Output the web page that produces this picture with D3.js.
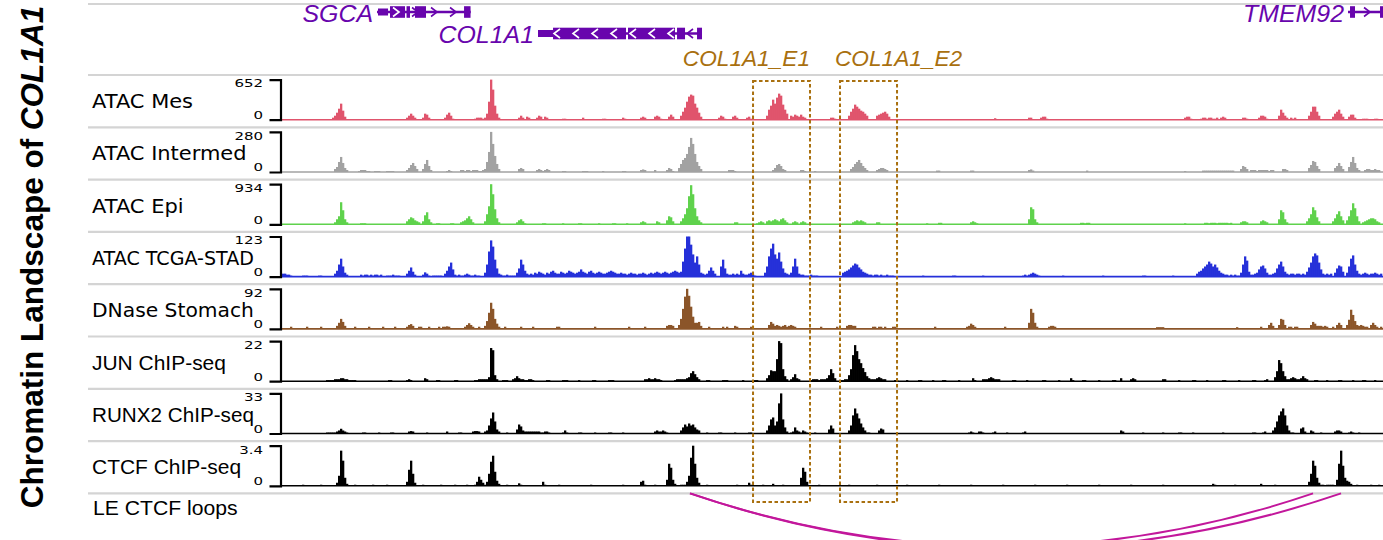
<!DOCTYPE html>
<html>
<head>
<meta charset="utf-8">
<script src="https://cdn.jsdelivr.net/npm/d3@7"></script>
<style>
  body { margin: 0; background: #fff; }
  svg { display: block; }
</style>
</head>
<body>
<svg id="chart" width="1383" height="540"></svg>
<script>
// region shown, chr17 (hg38), signal binned at 225 bp
const REGION_START = 50154600;
const REGION_END = 50278460;
const BIN = 225;

// tracks
const trackNames = ["ATAC Mes", "ATAC Intermed", "ATAC Epi", "ATAC TCGA-STAD",
  "DNase Stomach", "JUN ChIP-seq", "RUNX2 ChIP-seq", "CTCF ChIP-seq"];
const trackMax = [652, 280, 934, 123, 92, 22, 33, 3.4];

// signal: [first bin index, [values of consecutive bins]]
const mesPeaks = [
  [25, [33, 65, 114, 179, 261, 147, 49]],
  [62, [33, 65, 98, 65, 33]],
  [70, [33, 98, 82, 33]],
  [81, [33, 82, 114, 65, 16]],
  [96, [16, 33, 33, 33, 16]],
  [101, [33, 98, 293, 652, 489, 228, 98, 33]],
  [118, [33, 65, 33]], [122, [49, 33]], [127, [33, 65, 49]], [131, [49, 33]],
  [140, [16, 16]], [150, [33]], [160, [16, 16]], [170, [33, 16]],
  [179, [33, 49, 33]], [186, [49, 65, 49, 16]], [193, [49, 82, 49]],
  [199, [65, 130, 196, 293, 375, 408, 391, 261, 196, 114, 49]],
  [218, [33, 65, 49, 16]], [225, [49, 65, 33]], [232, [33, 49, 16]],
  [242, [65, 163, 228, 326, 261, 359, 424, 391, 245, 163, 98]],
  [254, [65, 49, 82, 65, 49, 82, 49, 33]],
  [274, [33, 33, 16]],
  [283, [65, 130, 179, 245, 212, 179, 147, 130, 98, 65]],
  [297, [65, 82, 98, 114, 130, 98, 49]],
  [356, [24]], [373, [33, 33]], [379, [33, 49, 49, 16]],
  [451, [33, 49, 49, 16]], [459, [16, 33, 33, 16, 33, 33, 16, 16, 33]],
  [469, [33, 49, 33]], [480, [33, 33, 16]], [488, [33, 65, 65, 49, 16]],
  [498, [65, 163, 114, 65, 33]], [504, [33, 16, 33]],
  [513, [65, 130, 212, 212, 130, 65]],
  [525, [49, 98, 130, 163, 98, 49]],
  [533, [49, 82, 82, 33]],
  [540, [16, 16, 16]], [546, [16, 16]]
];

const intermedPeaks = [
  [26, [21, 35, 70, 105, 63, 28, 14]],
  [38, [7, 14, 14, 14, 7, 7]], [46, [7, 7, 7]], [52, [7, 7, 7, 7]],
  [62, [14, 28, 49, 63, 42, 21]],
  [70, [21, 56, 84, 42, 14]],
  [82, [7, 14, 7]],
  [89, [14, 14, 7, 14, 14, 7, 14, 14, 14, 7, 7, 14]],
  [101, [21, 70, 140, 280, 196, 112, 56, 21]],
  [118, [21, 28, 21]],
  [127, [14, 21, 14, 7, 14, 21, 14]],
  [140, [7, 7]], [150, [7, 7, 7]], [160, [7]], [170, [7, 7]],
  [179, [14, 18, 14]], [186, [14]], [192, [14, 28, 21, 7]],
  [198, [28, 56, 84, 98, 126, 175, 238, 196, 126, 70, 42, 21]],
  [223, [14, 14, 14, 7]],
  [245, [14, 28, 49, 56, 42, 21, 14]],
  [259, [14, 14, 7]], [266, [7]],
  [284, [21, 35, 56, 70, 84, 63, 42, 28, 14]],
  [297, [14, 21, 28, 28, 21, 14]],
  [327, [10, 10]], [344, [10, 10]], [373, [14, 18, 10]], [402, [10]],
  [451, [7]], [460, [10, 10, 10, 10, 10, 10, 10, 10, 10, 10, 10, 10, 10, 10, 10, 10]],
  [479, [21, 42, 35, 21]],
  [484, [14, 14, 14, 7, 14, 14, 14, 14, 14, 7, 14, 14]],
  [500, [21, 21, 14]],
  [513, [28, 49, 77, 70, 42, 21]],
  [526, [28, 42, 63, 42, 21]],
  [533, [35, 70, 105, 63, 28, 14]],
  [541, [14, 21, 21, 14, 14, 21, 14, 14]]
];

const epiPeaks = [
  [26, [47, 117, 187, 514, 327, 117, 47]],
  [39, [23, 23, 23]],
  [62, [70, 117, 163, 140, 93, 70, 47]],
  [70, [70, 210, 280, 117, 47]],
  [77, [23, 23]], [84, [23, 23]],
  [89, [47, 70, 93, 140, 187, 117, 47]],
  [101, [70, 234, 420, 934, 700, 350, 140, 47]],
  [117, [47, 93, 117, 70, 23]],
  [130, [23, 23]], [140, [23]], [148, [23, 23]], [158, [23]], [165, [23, 23]], [172, [23]],
  [179, [47, 70, 47]], [187, [70, 47]],
  [192, [93, 187, 163, 70]],
  [199, [70, 140, 234, 374, 654, 911, 700, 374, 187, 93, 47]],
  [226, [47, 47]],
  [237, [23, 47, 70, 47]],
  [242, [70, 93, 70, 93, 117, 93, 70, 117, 140, 93, 47]],
  [255, [47, 70, 47]], [259, [47, 70, 47]],
  [285, [47, 70, 93, 70, 93, 70, 47]], [297, [47, 47]],
  [322, [23]], [328, [35, 35]], [344, [47, 70, 47, 23]],
  [373, [117, 397, 350, 117, 47]],
  [399, [35, 35, 23, 35, 35]],
  [451, [23]],
  [461, [35, 35, 23, 35, 35, 35, 23, 35, 35, 35, 35, 35, 23, 35]],
  [479, [47, 70, 70, 47]],
  [489, [70, 93, 70, 47]],
  [498, [117, 327, 280, 117, 47]],
  [512, [70, 140, 234, 397, 327, 163, 70]],
  [525, [70, 140, 234, 304, 187, 93]],
  [532, [93, 187, 327, 490, 374, 187, 70]],
  [540, [47, 70, 93, 117, 140, 140, 117, 70, 47]]
];

const tcgaPeaks = [
  [0, [9, 9, 6, 6, 3]], [10, [3, 3, 3]], [18, [3, 3]],
  [26, [9, 18, 37, 55, 31, 12, 6]],
  [39, [6, 3, 6, 6, 3, 6, 3, 6, 6, 3, 6]],
  [52, [3, 3, 3, 6, 3, 3, 3]],
  [62, [9, 18, 28, 15, 6]],
  [70, [6, 13, 9, 3]],
  [75, [3, 3, 3, 3, 3]],
  [81, [9, 18, 31, 43, 22, 6]],
  [87, [3, 6, 3, 3, 6, 9, 6, 3, 3, 6, 3, 3]],
  [101, [12, 37, 77, 111, 92, 52, 25, 9]],
  [109, [6, 3, 3, 6, 3, 3, 3, 3]],
  [117, [12, 25, 52, 37, 18, 9]],
  [123, [6, 9, 6, 12, 9, 15, 12, 9, 6, 12, 9, 15, 18, 12, 9, 9, 15, 12, 9, 12,
    18, 15, 12, 9, 12, 15, 22, 15, 12, 9, 15, 18, 12, 9, 12, 15, 12, 9, 9, 12,
    15, 18, 15, 12, 9, 9, 12, 9, 9, 6, 9, 12, 9, 9, 6, 9, 9, 12, 9, 6,
    9, 12, 9, 12, 15, 12, 9, 12, 15, 12, 9, 12, 15, 18, 15, 12]],
  [199, [15, 46, 86, 123, 123, 98, 68, 43, 62, 37, 12]],
  [210, [9, 6, 9, 18, 28, 18, 9]],
  [219, [31, 52, 25]],
  [222, [9, 6, 6, 9, 6, 9, 6, 18, 9, 6, 6, 9, 12, 6, 3]],
  [241, [12, 31, 62, 86, 101, 68, 55, 74, 46, 25, 12]],
  [252, [9, 6]],
  [254, [12, 31, 55, 31, 9]],
  [259, [6, 6, 3, 3, 3, 6, 3, 3, 3]],
  [280, [12, 15, 18, 22, 28, 34, 40, 37, 28, 22, 15, 12, 9, 6]],
  [294, [6, 3, 6, 6, 3, 6, 3, 3, 6, 3, 3, 3]],
  [320, [3]], [335, [3, 3]], [350, [3]],
  [370, [3, 6, 3, 6, 9, 12, 9, 6, 3]],
  [390, [3]], [410, [3]], [430, [3, 3]], [445, [3]],
  [457, [9, 15, 18, 25, 31, 37, 46, 40, 31, 37, 28, 18, 12, 9]],
  [471, [6, 6, 3, 6, 3, 6, 3, 3]],
  [479, [12, 37, 62, 49, 15]],
  [484, [6, 6, 9]],
  [487, [12, 22, 31, 34, 25, 12]],
  [493, [6, 6, 9]],
  [496, [12, 25, 37, 46, 31, 15]],
  [502, [9, 6, 9, 9, 6, 9, 9, 6, 9, 6]],
  [512, [15, 28, 43, 62, 71, 65, 43, 22, 9]],
  [521, [6, 9, 6, 9]],
  [526, [12, 25, 34, 31, 15]],
  [532, [12, 31, 55, 65, 37, 18]],
  [538, [9, 6, 9, 12, 9, 6, 9, 9, 12, 9, 6, 9]]
];

const dnasePeaks = [
  [3, [2, 5, 2, 2]], [10, [2, 2, 5]], [18, [2, 5, 2]],
  [27, [7, 14, 23, 16, 7]],
  [34, [2, 2, 5, 2]], [42, [2, 5, 2, 2]], [50, [5, 2, 2]], [55, [2, 5, 2]],
  [62, [5, 9, 11, 7, 2]],
  [67, [2, 5, 5, 2]], [72, [2, 5, 2]], [78, [5, 2, 5]],
  [81, [5, 6, 5]],
  [91, [5, 9, 13, 9, 5]],
  [97, [2, 5]],
  [101, [7, 18, 37, 60, 46, 23, 12, 5]],
  [110, [2, 5, 2]], [118, [2, 5, 2, 2]], [125, [5, 2, 2]], [136, [2, 5, 5, 2]],
  [145, [2, 2]], [155, [2, 5, 2]], [165, [2, 2]], [172, [2, 5, 2]], [180, [2, 5, 2]],
  [192, [7, 9, 9, 7]],
  [198, [9, 23, 46, 74, 92, 76, 51, 28, 14, 14, 16, 7]],
  [212, [2, 5, 2]], [220, [5, 2, 5]], [226, [7, 5]], [233, [2, 5, 2]],
  [243, [9, 16, 12]],
  [246, [7, 9, 7, 5, 7, 9, 5, 7, 9, 7, 5]],
  [260, [2, 2]], [268, [2, 5]], [276, [2, 5]],
  [282, [7, 9, 9, 7, 7]],
  [295, [5, 5, 2, 5, 5, 2, 5]], [305, [5, 5]],
  [315, [2, 2]], [325, [2, 5, 2]], [335, [2, 2]],
  [342, [5, 7, 12, 9, 5]],
  [352, [2, 2]], [360, [2, 5, 2]], [367, [2, 2]],
  [373, [14, 46, 37, 14, 5]],
  [380, [2]], [383, [5, 7, 7, 5]],
  [392, [2, 2]], [400, [2]], [410, [2, 2]], [420, [2]], [428, [2, 2]],
  [437, [4, 4, 4, 4]], [447, [2, 2]], [455, [2]], [462, [2, 2]], [477, [4]],
  [489, [5]],
  [493, [9, 14, 7]],
  [498, [9, 23, 21, 9]],
  [503, [5, 5, 2, 5, 5]],
  [514, [9, 16, 12, 7]],
  [518, [7, 7, 5, 7, 5]],
  [524, [2, 5]],
  [527, [9, 14, 9]],
  [532, [9, 21, 44, 32, 18, 9, 7]],
  [539, [9, 7, 5, 5]],
  [544, [9, 14, 9]],
  [547, [5, 2, 5, 2]]
];

const junPeaks = [
  [22, [0.6, 0.6, 0.6, 0.6, 1.1, 1.1, 1.1, 1.65, 1.65, 1.1, 1.1, 0.6, 0.6, 0.6, 0.6]],
  [53, [0.6, 0.6]], [62, [0.6, 1.1, 0.6]], [71, [1.65, 1.1]], [77, [0.6, 0.6]], [86, [0.6, 0.6]],
  [96, [0.6, 0.6, 1.1, 1.1, 1.1, 1.1, 1.1, 2.2, 18.2, 17, 3.3, 1.1]],
  [110, [0.6, 0.6, 0.6]],
  [115, [1.1, 1.65, 2.75, 1.65, 1.1, 1.1, 0.6, 0.6, 1.1, 1.1, 0.6]],
  [132, [0.6, 0.6]], [140, [0.6, 0.6, 0.6]], [148, [0.6]], [155, [0.6, 0.6]], [163, [0.6, 0.6, 0.6]],
  [181, [1.1, 1.1, 1.65, 1.1, 1.1, 1.65, 1.1, 1.1, 0.6]],
  [196, [0.6, 1.1, 1.1, 1.1, 1.1, 1.1, 1.65, 2.2, 4.4, 5.5, 3.85, 2.2, 1.1]],
  [212, [0.6, 0.6]], [220, [0.6, 0.6, 0.6]], [230, [0.6]], [236, [0.6, 0.6]],
  [242, [1.65, 3.3, 6, 5.5, 5.5, 12.1, 22, 20.9, 6.6, 2.75, 1.1]],
  [254, [1.1, 2.2, 3.85, 1.65, 1.1]],
  [264, [0.6, 1.1, 1.1, 1.1, 0.6, 1.1, 1.1, 1.1, 1.65]],
  [273, [3.3, 6.6, 4.4, 1.65]],
  [279, [0.6, 0.6, 1.1, 1.1]],
  [283, [3.3, 6.6, 14.3, 19.8, 16.5, 12.1, 9.9, 7.2, 5, 2.75, 1.65]],
  [294, [1.1, 1.1, 1.1, 1.65, 2.2, 1.65, 1.1, 1.1]],
  [306, [0.6, 0.6]], [312, [0.6]], [318, [0.6, 0.6]], [325, [0.6]], [330, [0.6, 0.6]], [338, [0.6]],
  [345, [1.65, 0.6]],
  [350, [1.1, 1.1, 1.1, 1.65, 2.2, 1.65, 1.1, 1.1, 1.1]],
  [365, [0.6, 0.6]], [372, [0.6]], [380, [0.6, 0.6]], [388, [0.6]], [394, [1.65, 0.6]],
  [400, [0.6, 0.6]], [408, [0.6]], [415, [0.6, 0.6]], [419, [1.65]], [424, [1.1, 1.65, 1.1]],
  [440, [1.1, 1.1]], [448, [0.6]], [455, [0.6, 0.6]], [462, [0.6]], [470, [0.6, 0.6]],
  [478, [0.6]], [485, [0.6, 0.6]], [491, [0.6, 1.1]],
  [496, [2.2, 5.5, 11.6, 9.9, 5.5, 2.75, 1.1]],
  [503, [1.1, 1.65, 2.2, 1.65, 1.1, 1.1, 1.65, 2.75, 1.65, 1.1]],
  [516, [0.6, 0.6]], [522, [0.6]], [528, [0.6, 0.6]], [535, [0.6]], [540, [0.6, 0.6]], [546, [0.6]]
];

const runx2Peaks = [
  [22, [0.8, 0.8, 0.8, 0.8, 0.8, 1.65, 2.5, 3.9, 2.5, 1.65, 0.8]],
  [40, [0.8, 0.8]], [48, [0.8]], [54, [0.8, 0.8]], [63, [1.65, 2, 1.65]], [72, [0.8]],
  [82, [1.65]], [88, [0.8, 0.8]], [95, [1.65, 2, 2, 1.65]],
  [101, [1.65, 2.5, 6.6, 12.4, 17.3, 9.9, 3.3, 1.65]],
  [112, [0.8]],
  [117, [3.3, 7.4, 5.8, 2.5, 1.65, 1.65, 1.65, 1.65, 1.65, 1.65, 1.65, 1.65, 0.8, 0.8, 1.65, 1.65, 0.8]],
  [140, [0.8, 2.5, 0.8]],
  [148, [0.8, 0.8]], [156, [0.8]], [163, [0.8, 0.8]], [170, [0.8]],
  [186, [1.65, 2.5, 1.65, 1.65, 2.5, 1.65, 0.8]],
  [199, [2.5, 5, 7.4, 5.8, 8.25, 6.6, 7.4, 5, 3.3, 2.5]],
  [212, [0.8]], [218, [0.8, 0.8]], [226, [0.8]], [233, [0.8, 0.8]],
  [242, [2.5, 6.6, 11.6, 13.2, 6.6, 9.9, 24.8, 33, 11.6, 5, 1.65]],
  [254, [0.8, 1.65, 5, 2.5, 1.65, 0.8, 2.5, 1.65, 0.8]],
  [266, [0.8]],
  [273, [3.3, 6.6, 4.1]],
  [283, [2.5, 6.6, 14.9, 20.6, 16.5, 12.4, 8.25, 5, 2.5]],
  [292, [0.8, 0.8]],
  [298, [2.5, 4.1, 3.3]],
  [343, [0.8, 1.65, 0.8]], [348, [1.65, 1.65, 0.8]], [355, [0.8, 1.65]], [362, [0.8]], [370, [0.8, 1.65]],
  [419, [2.5, 1.65]],
  [430, [0.8]], [440, [0.8]], [448, [0.8, 0.8]], [455, [0.8]], [470, [0.8]], [485, [0.8, 0.8]], [490, [0.8, 1.65]],
  [495, [2.5, 5, 9.9, 14.9, 18.2, 20.6, 14.9, 6.6, 2.5]],
  [504, [0.8, 0.8]],
  [509, [4.1, 5, 1.65]],
  [514, [2.5, 1.65]], [519, [0.8]],
  [526, [1.65, 2.5, 2.5, 1.65]],
  [533, [0.8, 1.65, 0.8]], [538, [0.8]]
];

const ctcfPeaks = [
  [10, [0.09]], [18, [0.04, 0.09]],
  [27, [0.26, 0.85, 2.98, 2.13, 0.68, 0.17]],
  [36, [0.09]], [44, [0.04, 0.09]], [52, [0.09]],
  [62, [0.34, 1.36, 2.13, 1.02, 0.26]],
  [70, [0.09]], [78, [0.04, 0.09]], [86, [0.09]], [92, [0.09]],
  [96, [0.09, 0.34, 0.77, 0.51, 0.26, 0.09]],
  [102, [0.34, 1.02, 2.04, 2.55, 1.19, 0.43, 0.17]],
  [112, [0.09]], [118, [0.21, 0.09]], [130, [0.34, 0.09]], [138, [0.09]], [154, [0.09]], [170, [0.09]],
  [179, [0.34, 0.43, 0.09]],
  [186, [0.09]],
  [192, [0.51, 1.87, 1.53, 0.51, 0.17]],
  [199, [0.09, 0.09, 0.09]],
  [202, [0.34, 0.85, 2.38, 3.4, 1.87, 0.68, 0.26]],
  [212, [0.09]], [227, [0.09]], [233, [0.26, 0.09]], [240, [0.09]], [245, [0.17]], [250, [0.09]],
  [259, [0.68, 1.53, 1.19, 0.34]],
  [268, [0.09]], [283, [0.09]], [297, [0.09]], [312, [0.09]], [328, [0.09]], [344, [0.09]],
  [360, [0.09]], [376, [0.09]], [392, [0.09]], [408, [0.09]], [424, [0.09]], [440, [0.09]],
  [465, [0.17, 0.09]], [476, [0.09]], [489, [0.17]], [496, [0.09]],
  [513, [0.34, 1.02, 2.13, 1.7, 0.68, 0.26]],
  [519, [0.09, 0.09, 0.04, 0.09, 0.09, 0.09, 0.09]],
  [527, [0.51, 1.87, 2.98, 1.7, 0.68, 0.43, 0.34, 0.17]],
  [537, [0.09]], [543, [0.04, 0.09]], [548, [0.09]]
];

const trackPeaks = [mesPeaks, intermedPeaks, epiPeaks, tcgaPeaks, dnasePeaks, junPeaks, runx2Peaks, ctcfPeaks];

// genes (bp)
const genes = [
  { name: "SGCA", strand: "+", start: 50165290, end: 50175830,
    utr: [[50165400, 50166530]],
    exons: [[50166750, 50168440], [50168610, 50169000], [50169560, 50170800], [50175080, 50175810]] },
  { name: "COL1A1", strand: "-", start: 50183400, end: 50201850,
    utr: [[50183400, 50185090]],
    exons: [[50185090, 50193300], [50193525, 50198810], [50199040, 50199940], [50201290, 50201850]] },
  { name: "TMEM92", strand: "+", start: 50274525, end: 50290000,
    utr: [],
    exons: [[50274750, 50275310], [50278125, 50278460]] }
];

// enhancers
const enhancerNames = ["COL1A1_E1", "COL1A1_E2"];
const enhancerStarts = [50207590, 50217375];
const enhancerEnds = [50214000, 50223790];

// CTCF loops (anchor pairs)
const loops = [[50200500, 50270590], [50200500, 50273740]];

//Styles and layout

const trackColors = ["#e0546c", "#a2a2a2", "#5fd24c", "#2530d9", "#8b5529", "#000", "#000", "#000"];
const trackFonts = ["DejaVu Sans", "DejaVu Sans", "DejaVu Sans", "DejaVu Sans", "DejaVu Sans",
  "Liberation Sans", "Liberation Sans", "Liberation Sans"];
const geneColor = "#6805ad";
const enhColor = "#a9700f";
const loopColor = "#c2179b";

const W = 1383, H = 540;
const PX0 = 282, PX1 = 1383;
const SEP0 = 75, TRACK_H = 52.3;

const svg = d3.select("#chart");
svg.append("rect").attr("width", W).attr("height", H).attr("fill", "#fff");

svg.append("defs").append("clipPath").attr("id", "plotClip")
  .append("rect").attr("x", PX0).attr("y", 0).attr("width", PX1 - PX0).attr("height", H);

const x = d3.scaleLinear().domain([REGION_START, REGION_END]).range([PX0, PX1]);
const binW = x(REGION_START + BIN) - x(REGION_START);

//Separator lines

const seps = [4].concat(d3.range(9).map(i => SEP0 + i * TRACK_H));
svg.append("g").selectAll("line").data(seps).join("line")
  .attr("x1", 88).attr("x2", W)
  .attr("y1", d => d).attr("y2", d => d)
  .attr("stroke", "#d4d4d4").attr("stroke-width", 2.2);

//Title

svg.append("text")
  .attr("transform", "translate(42.5,257) rotate(-90)")
  .attr("text-anchor", "middle")
  .attr("font-family", "Liberation Sans, Arial, sans-serif")
  .attr("font-weight", "bold").attr("font-size", 31.5)
  .text("Chromatin Landscape of ")
  .append("tspan").attr("font-style", "italic").text("COL1A1");

//Gene track

const geneG = svg.append("g").attr("clip-path", "url(#plotClip)");
const geneLabelG = svg.append("g");
const rowY = [12, 33.5];
const rowEnds = [];
const labelFont = 23.5;

genes.forEach(g => {
  const gx0 = x(g.start), gx1 = x(g.end);
  const labelW = g.name.length * labelFont * 0.62;
  // greedy row packing, label sits left of the gene start
  let row = 0;
  while (rowEnds[row] !== undefined && rowEnds[row] > gx0 - labelW - 8) row++;
  rowEnds[row] = gx1;
  const cy = rowY[row];

  geneG.append("line")
    .attr("x1", gx0).attr("x2", gx1).attr("y1", cy).attr("y2", cy)
    .attr("stroke", geneColor).attr("stroke-width", 2.6);

  geneG.selectAll(null).data(g.utr).join("rect")
    .attr("x", d => x(d[0])).attr("width", d => x(d[1]) - x(d[0]))
    .attr("y", cy - 3.5).attr("height", 7).attr("fill", geneColor);

  geneG.selectAll(null).data(g.exons).join("rect")
    .attr("x", d => x(d[0])).attr("width", d => Math.max(2, x(d[1]) - x(d[0])))
    .attr("y", cy - 5.8).attr("height", 11.6).attr("fill", geneColor);

  // strand chevrons
  const inExon = px => g.exons.some(e => px > x(e[0]) + 2 && px < x(e[1]) - 2);
  const dir = g.strand === "+" ? 1 : -1;
  for (let px = gx0 + 19; px < gx1 - 6; px += 19) {
    const inside = inExon(px);
    geneG.append("path")
      .attr("d", `M${px - 3 * dir},${cy - 4.5} L${px + 3 * dir},${cy} L${px - 3 * dir},${cy + 4.5}`)
      .attr("fill", "none")
      .attr("stroke", inside ? "#fff" : geneColor)
      .attr("stroke-width", 1.6);
  }

  geneLabelG.append("text")
    .attr("font-family", "Liberation Sans, Arial, sans-serif")
    .attr("font-style", "italic").attr("font-size", labelFont)
    .attr("fill", geneColor).attr("text-anchor", "end")
    .attr("transform", `translate(${gx0 - 4},${cy + 9.5}) scale(1.06,1)`)
    .text(g.name);
});

//Enhancer labels

enhancerNames.forEach((name, i) => {
  const ex0 = x(enhancerStarts[i]), ex1 = x(enhancerEnds[i]);
  const anchorEnd = i === 0;
  svg.append("text")
    .attr("font-family", "Liberation Sans, Arial, sans-serif")
    .attr("font-style", "italic").attr("font-size", 22)
    .attr("fill", enhColor)
    .attr("text-anchor", anchorEnd ? "end" : "start")
    .attr("transform", `translate(${anchorEnd ? ex1 : ex0 - 5},66) scale(1.03,1)`)
    .text(name);
});

//Signal tracks

trackNames.forEach((name, i) => {
  const sep = SEP0 + i * TRACK_H;
  const yTop = sep + 4.6, yBase = sep + 44.7;
  const max = trackMax[i];
  const y = d3.scaleLinear().domain([0, max]).range([yBase, yTop]);

  const g = svg.append("g");
  const bars = [];
  trackPeaks[i].forEach(([b0, vals]) => vals.forEach((v, k) => bars.push({ b: b0 + k, v: Math.min(v, max) })));

  g.append("g").attr("clip-path", "url(#plotClip)")
    .selectAll("rect").data(bars).join("rect")
    .attr("x", d => x(REGION_START + d.b * BIN))
    .attr("width", binW + 0.3)
    .attr("y", d => y(d.v))
    .attr("height", d => yBase - y(d.v))
    .attr("fill", trackColors[i]);

  g.append("line")
    .attr("x1", PX0).attr("x2", PX1).attr("y1", yBase).attr("y2", yBase)
    .attr("stroke", trackColors[i]).attr("stroke-width", 1.6);

  // bracket axis
  const axis = g.append("g").attr("transform", "translate(280.5,0)")
    .call(d3.axisLeft(y).tickValues([]).tickSizeOuter(11));
  axis.select(".domain").attr("stroke", "#000").attr("stroke-width", 2.2);

  const tickFont = "DejaVu Sans, sans-serif";
  g.append("text")
    .attr("transform", `translate(263,${yTop + 7.8}) scale(1.36,1)`)
    .attr("text-anchor", "end").attr("font-family", tickFont).attr("font-size", 11)
    .text(max);
  g.append("text")
    .attr("transform", `translate(263,${yBase - 0.6}) scale(1.36,1)`)
    .attr("text-anchor", "end").attr("font-family", tickFont).attr("font-size", 11)
    .text(0);

  // track name, squeezed a little when it is long
  const lab = g.append("text")
    .attr("font-family", trackFonts[i] + ", sans-serif").attr("font-size", 19.6)
    .attr("fill", "#000")
    .text(name);
  const len = lab.node().getComputedTextLength();
  const sx = Math.min(1.07, 162 / len);
  lab.attr("transform", `translate(92,${sep + 33}) scale(${sx},1)`);
});

//Loops track

const loopBase = SEP0 + 8 * TRACK_H;
svg.append("text")
  .attr("font-family", "Liberation Sans, Arial, sans-serif").attr("font-size", 19.6)
  .attr("transform", `translate(93,${loopBase + 21.5}) scale(1.08,1)`)
  .text("LE CTCF loops");

svg.append("g").attr("clip-path", "url(#plotClip)")
  .selectAll("path").data(loops).join("path")
  .attr("d", d => {
    const x1 = x(d[0]), x2 = x(d[1]);
    const ctrl = 0.34 * (x2 - x1) / 2;
    return `M${x1},${loopBase} Q${(x1 + x2) / 2},${loopBase + ctrl} ${x2},${loopBase}`;
  })
  .attr("fill", "none").attr("stroke", loopColor).attr("stroke-width", 2);

//Enhancer dashed boxes (drawn last, over the tracks)

svg.append("g").selectAll("rect").data(enhancerStarts).join("rect")
  .attr("x", d => x(d))
  .attr("width", (d, i) => x(enhancerEnds[i]) - x(d))
  .attr("y", 81).attr("height", 421)
  .attr("fill", "none").attr("stroke", enhColor)
  .attr("stroke-width", 2).attr("stroke-dasharray", "3.5,2.5");
</script>
</body>
</html>
